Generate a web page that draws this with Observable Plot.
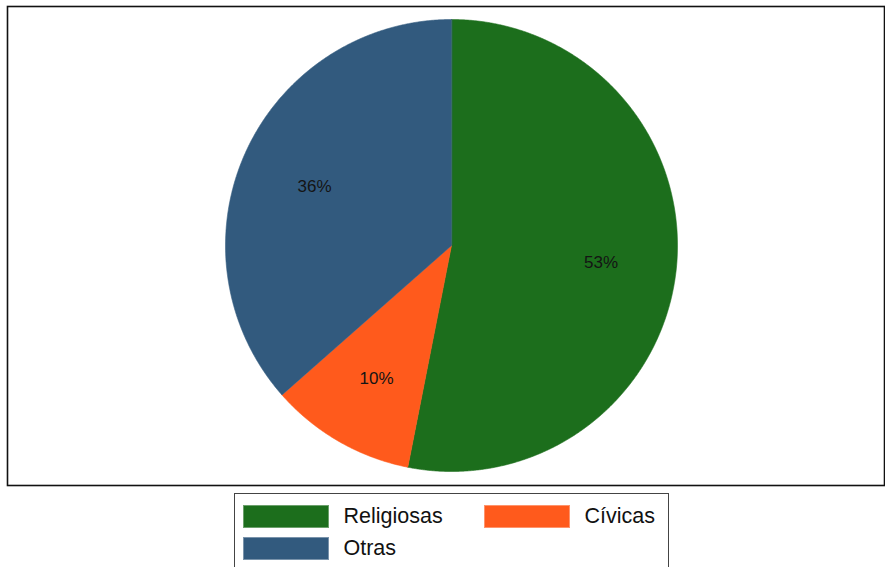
<!DOCTYPE html>
<html>
<head>
<meta charset="utf-8">
<script src="https://cdn.jsdelivr.net/npm/d3@7"></script>
<script src="https://cdn.jsdelivr.net/npm/@observablehq/plot@0.6"></script>
<style>
  html, body { margin: 0; padding: 0; background: #fff; }
  #wrap { position: relative; width: 885px; height: 567px; overflow: hidden; font-family: "Liberation Sans", Arial, sans-serif; }
  #chart { position: absolute; left: 0; top: 0; }
  #legend { position: absolute; left: 233.5px; top: 493px; width: 435px; height: 90px; border: 1.5px solid #444; box-sizing: border-box; background: #fff; }
  .item { position: absolute; display: flex; align-items: center; font-size: 21.5px; color: #111; }
  .sw { width: 86px; height: 23px; box-sizing: border-box; border: 1px solid rgba(255,255,255,0.35); margin-right: 15px; }
</style>
</head>
<body>
<div id="wrap">
  <div id="chart"></div>
  <div id="legend"></div>
</div>
<script>
const categories = ["Religiosas", "Cívicas", "Otras"];
const shares = [53.1, 10.4, 36.5];
const labels = ["53%", "10%", "36%"];
const colors = ["#1c6e1c", "#ff5a1c", "#325a7e"];

// slice outlines (unit circle, clockwise from 12 o'clock)
const total = d3.sum(shares);
const slices = [];
const textPts = [];
let cum = 0;
categories.forEach((cat, i) => {
  const a0 = cum / total * 2 * Math.PI;
  cum += shares[i];
  const a1 = cum / total * 2 * Math.PI;
  slices.push({cat, x: 0, y: 0});
  const n = Math.max(2, Math.ceil((a1 - a0) / (Math.PI / 720)));
  for (let k = 0; k <= n; k++) {
    const a = a0 + (a1 - a0) * k / n;
    slices.push({cat, x: Math.sin(a), y: Math.cos(a)});
  }
  const am = (a0 + a1) / 2;
  textPts.push({cat, label: labels[i], x: 0.665 * Math.sin(am), y: 0.665 * Math.cos(am)});
});

const W = 885, H = 490;
const mL = 7, mR = 1, mT = 6, mB = 5;
const R = 226, cx = 451, cy = 245;
const xd0 = -(cx - mL) / R, xd1 = xd0 + (W - mL - mR) / R;
const yd0 = -((H - mB) - cy) / R, yd1 = yd0 + (H - mB - mT) / R;

const chart = Plot.plot({
  width: W, height: H,
  marginLeft: mL, marginRight: mR, marginTop: mT, marginBottom: mB,
  x: {domain: [xd0, xd1], axis: null},
  y: {domain: [yd0, yd1], axis: null},
  color: {domain: categories, range: colors},
  style: {fontFamily: "'Liberation Sans', Arial, sans-serif", background: "#fff"},
  marks: [
    Plot.line(slices, {x: "x", y: "y", z: "cat", fill: "cat", stroke: "cat", strokeWidth: 0.6, curve: "linear-closed"}),
    Plot.text(textPts, {x: "x", y: "y", text: "label", fontSize: 17, dy: 2.5, fill: "#141414"}),
    Plot.frame({stroke: "#111", strokeWidth: 1.6})
  ]
});
document.getElementById("chart").appendChild(chart);

// legend
const legend = document.getElementById("legend");
const pos = [[8, 10], [249, 10], [8, 42]];
categories.forEach((cat, i) => {
  const it = document.createElement("div");
  it.className = "item";
  it.style.left = pos[i][0] + "px";
  it.style.top = pos[i][1] + "px";
  const sw = document.createElement("div");
  sw.className = "sw";
  sw.style.background = colors[i];
  const tx = document.createElement("span");
  tx.textContent = cat;
  it.appendChild(sw);
  it.appendChild(tx);
  legend.appendChild(it);
});
</script>
</body>
</html>
